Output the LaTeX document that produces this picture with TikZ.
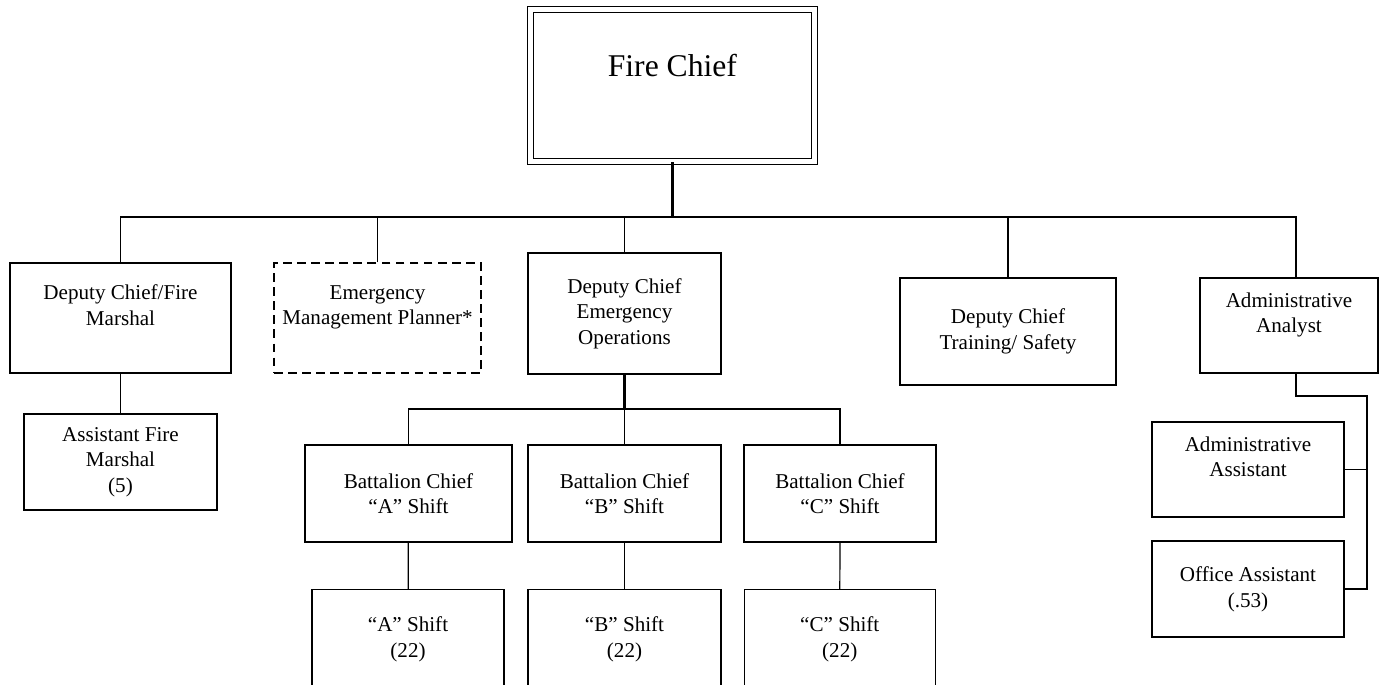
\documentclass[tikz,border=0pt]{standalone}
\usepackage{fontspec}
\setmainfont{Liberation Serif}

\begin{document}
\begin{tikzpicture}[
    box/.style={rectangle, draw, line width=0.8pt, align=center, inner sep=0pt, font=\fontsize{12}{14.6}\selectfont},
    planner/.style={box, dash pattern=on 5pt off 3pt},
    chief/.style={rectangle, draw, double, line width=0.6pt, double distance=2.4pt, align=center, inner sep=0pt, font=\fontsize{18}{23}\selectfont},
    link/.style={line width=0.7pt},
    trunk/.style={line width=1.3pt}
]

% Page frame, cuts off the bottom of the shift boxes
\clip (0,0) rectangle (27.58,-13.68);
\fill[white] (0,0) rectangle (27.58,-13.68);

% Fire chief
\node[chief, minimum width=5.68cm, minimum height=3.04cm] (fc) at (13.448,-1.71) {Fire Chief\\~};

% First level
\node[box, minimum width=4.42cm, minimum height=2.2cm] (dcfm) at (2.41,-6.36) {Deputy Chief/Fire\\Marshal\\~};
\node[planner, minimum width=4.14cm, minimum height=2.2cm] (emp) at (7.55,-6.36) {Emergency\\Management Planner*\\~};
\node[box, minimum width=3.86cm, minimum height=2.42cm] (dceo) at (12.49,-6.27) {Deputy Chief\\Emergency\\Operations};
\node[box, minimum width=4.32cm, minimum height=2.14cm] (dcts) at (20.16,-6.63) {Deputy Chief\\Training/ Safety};
\node[box, minimum width=3.56cm, minimum height=1.9cm] (aa) at (25.78,-6.51) {Administrative\\Analyst\\~};

% Fire marshal branch
\node[box, minimum width=3.86cm, minimum height=1.92cm] (afm) at (2.41,-9.24) {Assistant Fire\\Marshal\\(5)};

% Battalion chiefs
\node[box, minimum width=4.14cm, minimum height=1.94cm] (bca) at (8.17,-9.87) {Battalion Chief\\“A” Shift};
\node[box, minimum width=3.86cm, minimum height=1.94cm] (bcb) at (12.49,-9.87) {Battalion Chief\\“B” Shift};
\node[box, minimum width=3.84cm, minimum height=1.94cm] (bcc) at (16.8,-9.87) {Battalion Chief\\“C” Shift};

% Shifts
\node[box, minimum width=3.84cm, minimum height=1.98cm] (sa) at (8.16,-12.78) {“A” Shift\\(22)};
\node[box, minimum width=3.86cm, minimum height=1.98cm] (sb) at (12.49,-12.78) {“B” Shift\\(22)};
\node[box, minimum width=3.82cm, minimum height=1.98cm] (sc) at (16.795,-12.78) {“C” Shift\\(22)};

% Admin staff
\node[box, minimum width=3.84cm, minimum height=1.9cm] (adas) at (24.96,-9.39) {Administrative\\Assistant\\~};
\node[box, minimum width=3.84cm, minimum height=1.92cm] (oa) at (24.96,-11.78) {Office Assistant\\(.53)};

% Junction points
\coordinate (bus) at (13.448,-4.34);
\coordinate (sub) at (12.49,-8.18);
\coordinate (rail) at (27.34,-7.92);

% Connections
\draw[trunk] (fc.south) -- (bus);
\draw[link] (dcfm.north) |- (bus) -| ([xshift=0.14cm]aa.north);
\foreach \n in {emp, dceo, dcts} \draw[link] (\n.north) -- (\n.north |- bus);
\draw[link] (dcfm) -- (afm);
\draw[trunk] (dceo.south) -- (sub);
\draw[link] (bca.north) |- (sub) -| (bcc.north);
\draw[link] (bcb.north) -- (sub);
\foreach \n in {a,b,c} \draw[link] (bc\n) -- (s\n);
\draw[link] ([xshift=0.14cm]aa.south) |- (rail) |- (oa.east);
\draw[link] (adas.east) -- (adas.east -| rail);

\end{tikzpicture}
\end{document}
